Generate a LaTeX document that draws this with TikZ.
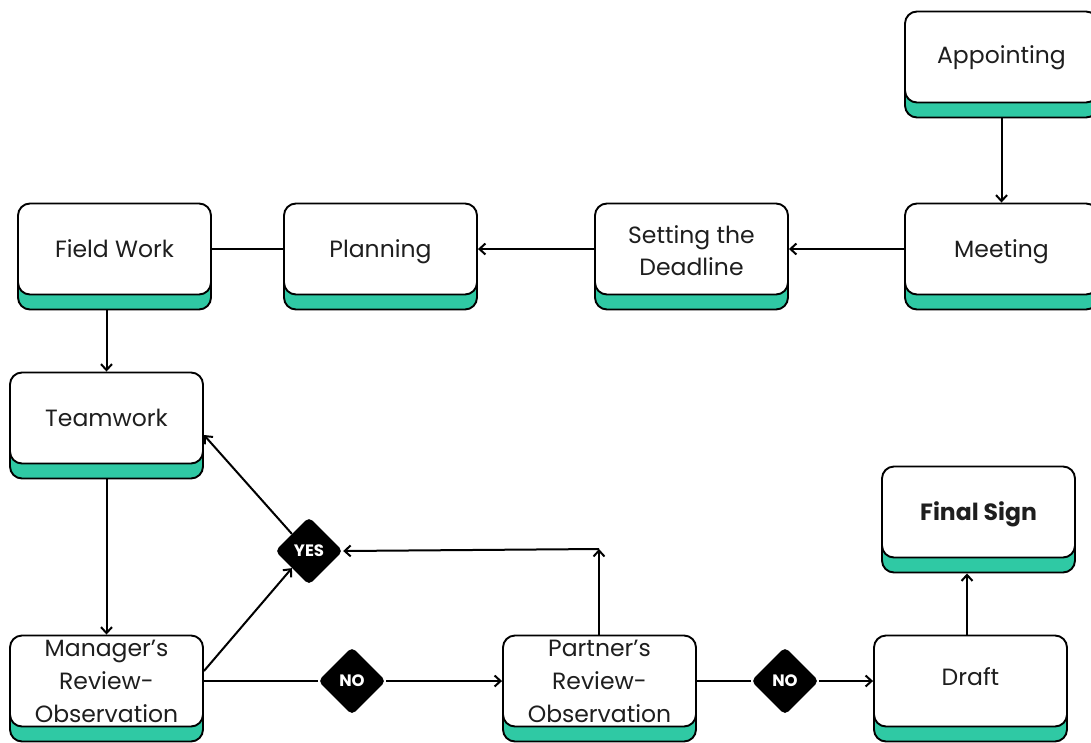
\documentclass[tikz,border=0pt]{standalone}
\usepackage{fontspec}
\setmainfont{Poppins}
\usetikzlibrary{shapes.geometric,arrows.meta,shadows}
\definecolor{mint}{RGB}{47,201,164}
\definecolor{ink}{RGB}{30,30,30}
\begin{document}
\begin{tikzpicture}[x=1pt,y=-1pt,
  stepbox/.style={draw=black, line width=1.9pt, fill=white, rounded corners=12pt,
    minimum width=193pt, minimum height=91pt, inner sep=0pt, align=center,
    font=\fontsize{23.5}{32}\selectfont, text=ink,
    general shadow={fill=mint, draw=black, line width=1.9pt, shadow yshift=-15pt}},
  oneline/.style={text height=16.5pt, text depth=0pt},
  dec/.style={diamond, fill=black, rounded corners=5pt, minimum size=68pt, inner sep=0pt,
    text=white, font=\bfseries\fontsize{16.5}{16.5}\selectfont},
  link/.style={line width=2pt, draw=black},
  arr/.style={link, -{Straight Barb[length=6pt,width=11pt]}}]
\useasboundingbox (0,0) rectangle (1091,742);

\node[stepbox, oneline, text height=13pt] (appoint) at (1001.5,57) {Appointing};
\node[stepbox, oneline] (meeting) at (1001.5,249) {Meeting};
\node[stepbox] (setting) at (691.5,249) {\raisebox{-10pt}[0pt][0pt]{\begin{tabular}{@{}c@{}}Setting the\\Deadline\end{tabular}}};
\node[stepbox, oneline] (planning) at (380.5,249) {Planning};
\node[stepbox, oneline] (field) at (114.5,249) {Field Work};
\node[stepbox, oneline] (team) at (106.5,418) {Teamwork};
\node[stepbox, font=\fontsize{23.5}{33}\selectfont] (manager) at (106.5,681) {Manager’s\\Review-\\Observation};
\node[stepbox, font=\fontsize{23.5}{33}\selectfont] (partner) at (599.5,681) {Partner’s\\Review-\\Observation};
\node[stepbox, oneline, text height=9pt] (draft) at (970.5,681) {Draft};
\node[stepbox, oneline, font=\bfseries\fontsize{23.5}{32}\selectfont] (final) at (978.5,512) {Final Sign};

\node[dec] (yes) at (309,551) {YES};
\node[dec] (no1) at (352,681) {NO};
\node[dec] (no2) at (785,681) {NO};

\coordinate (pturn) at (599,549);

\draw[arr] ([yshift=-15pt]appoint.south) -- (meeting.north);
\draw[arr] (meeting.west) -- (setting.east);
\draw[arr] (setting.west) -- (planning.east);
\draw[link] (planning.west) -- (field.east);
\draw[arr] ([yshift=-15pt]field.south -| team.north) -- (team.north);
\draw[arr] ([yshift=-15pt]team.south) -- (manager.north);
\draw[arr] ([yshift=10pt]manager.east) -- (yes.south west);
\draw[arr] (yes.north west) -- ([yshift=-17pt]team.east);
\draw[arr] (partner.north -| pturn) -- (pturn);
\draw[arr] (pturn) -- (yes.east);
\draw[link] (manager.east) -- (no1.west);
\draw[arr] (no1.east) -- (partner.west);
\draw[link] (partner.east) -- (no2.west);
\draw[arr] (no2.east) -- (draft.west);
\draw[arr] (draft.north -| 967,0) -- ([yshift=-15pt]final.south -| 967,0);
\end{tikzpicture}
\end{document}
